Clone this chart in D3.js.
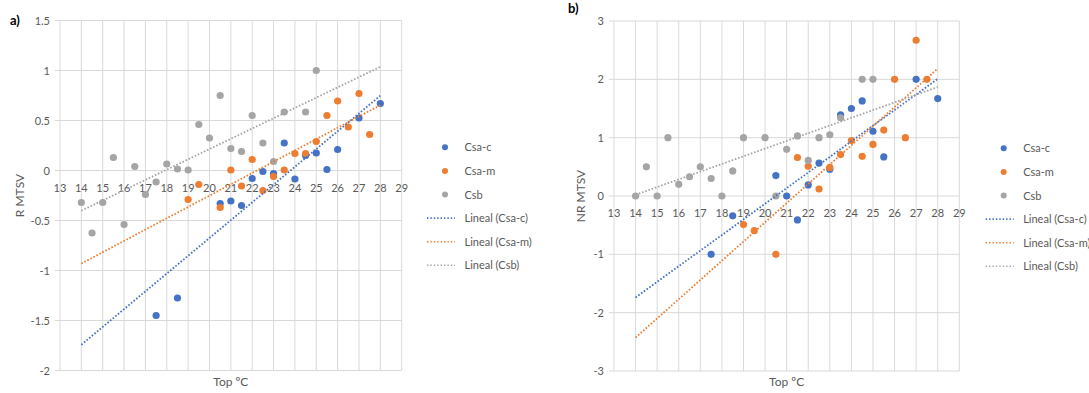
<!DOCTYPE html>
<html>
<head>
<meta charset="utf-8">
<script src="https://cdn.jsdelivr.net/npm/d3@7"></script>
<style>
  html, body { margin: 0; padding: 0; background: #fff; }
  svg { display: block; font-family: Lato, 'Open Sans', sans-serif; }
  .tick-label { fill: #595959; font-size: 11px; }
  .title { fill: #595959; font-size: 12px; }
  .legend text { fill: #595959; font-size: 11px; }
</style>
</head>
<body>
<svg id="chart" width="1089" height="393"></svg>
<script>
// ---- data ----
const seriesNames = ['Csa-c', 'Csa-m', 'Csb'];
const seriesColors = ['#4472C4', '#ED7D31', '#A5A5A5'];
const xTickLabels = [13, 14, 15, 16, 17, 18, 19, 20, 21, 22, 23, 24, 25, 26, 27, 28, 29];
const yTickLabelsA = [-2, -1.5, -1, -0.5, 0, 0.5, 1, 1.5];
const yTickLabelsB = [-3, -2, -1, 0, 1, 2, 3];
const trendRange = [14, 28];

// panel a) R MTSV
const aCsaC_top  = [17.5, 18.5, 20.5, 21, 21.5, 22, 22.5, 23, 23.5, 24, 24.5, 25, 25.5, 26, 27, 28];
const aCsaC_mtsv = [-1.45, -1.275, -0.33, -0.305, -0.35, -0.08, -0.01, -0.03, 0.275, -0.085, 0.15, 0.175, 0.01, 0.21, 0.525, 0.67];
const aCsaM_top  = [19, 19.5, 20.5, 21, 21.5, 22, 22.5, 23, 23.5, 24, 24.5, 25, 25.5, 26, 26.5, 27, 27.5];
const aCsaM_mtsv = [-0.29, -0.14, -0.37, 0.005, -0.155, 0.11, -0.2, -0.06, 0.005, 0.17, 0.17, 0.29, 0.55, 0.695, 0.435, 0.77, 0.36];
const aCsb_top   = [14, 14.5, 15, 15.5, 16, 16.5, 17, 17.5, 18, 18.5, 19, 19.5, 20, 20.5, 21, 21.5, 22, 22.5, 23, 23.5, 24.5, 25];
const aCsb_mtsv  = [-0.32, -0.625, -0.32, 0.13, -0.54, 0.04, -0.24, -0.115, 0.065, 0.015, 0.005, 0.46, 0.325, 0.75, 0.22, 0.19, 0.55, 0.275, 0.09, 0.585, 0.585, 1.0];

// panel b) NR MTSV
const bCsaC_top  = [17.5, 18.5, 20.5, 21, 21.5, 22, 22.5, 23, 23.5, 24, 24.5, 25, 25.5, 27, 28];
const bCsaC_mtsv = [-1.0, -0.34, 0.35, 0, -0.41, 0.19, 0.565, 0.46, 1.39, 1.5, 1.63, 1.11, 0.67, 2.0, 1.67];
const bCsaM_top  = [19, 19.5, 20.5, 21.5, 22, 22.5, 23, 23.5, 24, 24.5, 25, 25.5, 26, 26.5, 27, 27.5];
const bCsaM_mtsv = [-0.49, -0.595, -1.0, 0.66, 0.51, 0.12, 0.49, 0.71, 0.95, 0.68, 0.885, 1.13, 2.0, 1.0, 2.67, 2.0];
const bCsb_top   = [14, 14.5, 15, 15.5, 16, 16.5, 17, 17.5, 18, 18.5, 19, 20, 20.5, 21, 21.5, 22, 22.5, 23, 23.5, 24.5, 25];
const bCsb_mtsv  = [0, 0.5, 0, 1.0, 0.2, 0.33, 0.5, 0.3, 0, 0.43, 1.0, 1.0, 0, 0.8, 1.03, 0.61, 1.0, 1.05, 1.34, 2.0, 2.0];

const svg = d3.select('#chart');

function zip(xs, ys) { return xs.map((x, i) => ({ x: x, y: ys[i] })); }

// least squares, like Excel's linear trendline
function linearFit(pts) {
  const mx = d3.mean(pts, d => d.x), my = d3.mean(pts, d => d.y);
  const sxy = d3.sum(pts, d => (d.x - mx) * (d.y - my));
  const sxx = d3.sum(pts, d => (d.x - mx) * (d.x - mx));
  const b = sxy / sxx;
  return x => my + b * (x - mx);
}

function drawPanel(cfg) {
  const g = svg.append('g');
  const x = d3.scaleLinear().domain([13, 29]).range([cfg.left, cfg.right]);
  const y = d3.scaleLinear().domain(d3.extent(cfg.yTicks)).range([cfg.bottom, cfg.top]);

  // grid
  g.append('g').selectAll('line').data(xTickLabels).join('line')
    .attr('x1', d => x(d)).attr('x2', d => x(d))
    .attr('y1', cfg.top).attr('y2', cfg.bottom)
    .attr('stroke', '#d9d9d9').attr('stroke-width', 1);
  g.append('g').selectAll('line').data(cfg.yTicks).join('line')
    .attr('x1', cfg.left - 5).attr('x2', cfg.right)
    .attr('y1', d => y(d)).attr('y2', d => y(d))
    .attr('stroke', '#d9d9d9').attr('stroke-width', 1);

  // y tick labels
  g.append('g').selectAll('text').data(cfg.yTicks).join('text')
    .attr('class', 'tick-label')
    .attr('x', cfg.left - 10).attr('y', d => y(d) + 4)
    .attr('text-anchor', 'end')
    .text(d => d);

  // x tick labels sit under the zero line
  g.append('g').selectAll('text').data(xTickLabels).join('text')
    .attr('class', 'tick-label')
    .attr('x', d => x(d)).attr('y', y(0) + 21)
    .attr('text-anchor', 'middle')
    .text(d => d);

  // points
  cfg.series.forEach((pts, i) => {
    g.append('g').selectAll('circle').data(pts).join('circle')
      .attr('cx', d => x(d.x)).attr('cy', d => y(d.y))
      .attr('r', 3.6)
      .attr('fill', seriesColors[i]);
  });

  // trendlines
  cfg.series.forEach((pts, i) => {
    const f = linearFit(pts);
    g.append('line')
      .attr('x1', x(trendRange[0])).attr('y1', y(f(trendRange[0])))
      .attr('x2', x(trendRange[1])).attr('y2', y(f(trendRange[1])))
      .attr('stroke', seriesColors[i])
      .attr('stroke-width', 1.8)
      .attr('stroke-dasharray', '1.6,1.8');
  });

  // titles
  g.append('text').attr('class', 'title')
    .attr('x', (cfg.left + cfg.right) / 2).attr('y', 386)
    .attr('text-anchor', 'middle').text('Top ºC');
  g.append('text').attr('class', 'title')
    .attr('transform', `translate(${cfg.yTitleX},${(cfg.top + cfg.bottom) / 2}) rotate(-90)`)
    .attr('text-anchor', 'middle').text(cfg.yTitle);
  g.append('text')
    .attr('x', cfg.tagX).attr('y', cfg.tagY)
    .attr('font-size', 13).attr('font-weight', 'bold').attr('fill', '#000')
    .text(cfg.tag);

  // legend
  const lg = g.append('g').attr('class', 'legend');
  const names = seriesNames.concat(seriesNames.map(n => `Lineal (${n})`));
  names.forEach((n, i) => {
    const ly = cfg.legendY + i * 23.6;
    const c = seriesColors[i % 3];
    if (i < 3) {
      lg.append('circle').attr('cx', cfg.legendX + 18).attr('cy', ly).attr('r', 3).attr('fill', c);
    } else {
      lg.append('line')
        .attr('x1', cfg.legendX).attr('x2', cfg.legendX + 28)
        .attr('y1', ly).attr('y2', ly)
        .attr('stroke', c).attr('stroke-width', 1.6)
        .attr('stroke-dasharray', '1.4,2');
    }
    lg.append('text').attr('x', cfg.legendX + 37.5).attr('y', ly + 4).text(n);
  });
}

drawPanel({
  left: 60, right: 401.7, top: 20.5, bottom: 370.5,
  yTicks: yTickLabelsA,
  series: [zip(aCsaC_top, aCsaC_mtsv), zip(aCsaM_top, aCsaM_mtsv), zip(aCsb_top, aCsb_mtsv)],
  yTitle: 'R MTSV', yTitleX: 24,
  tag: 'a)', tagX: 10, tagY: 25,
  legendX: 427, legendY: 147.3
});

drawPanel({
  left: 614, right: 959.3, top: 21, bottom: 371,
  yTicks: yTickLabelsB,
  series: [zip(bCsaC_top, bCsaC_mtsv), zip(bCsaM_top, bCsaM_mtsv), zip(bCsb_top, bCsb_mtsv)],
  yTitle: 'NR MTSV', yTitleX: 585,
  tag: 'b)', tagX: 568, tagY: 13,
  legendX: 985.7, legendY: 148.3
});
</script>
</body>
</html>
